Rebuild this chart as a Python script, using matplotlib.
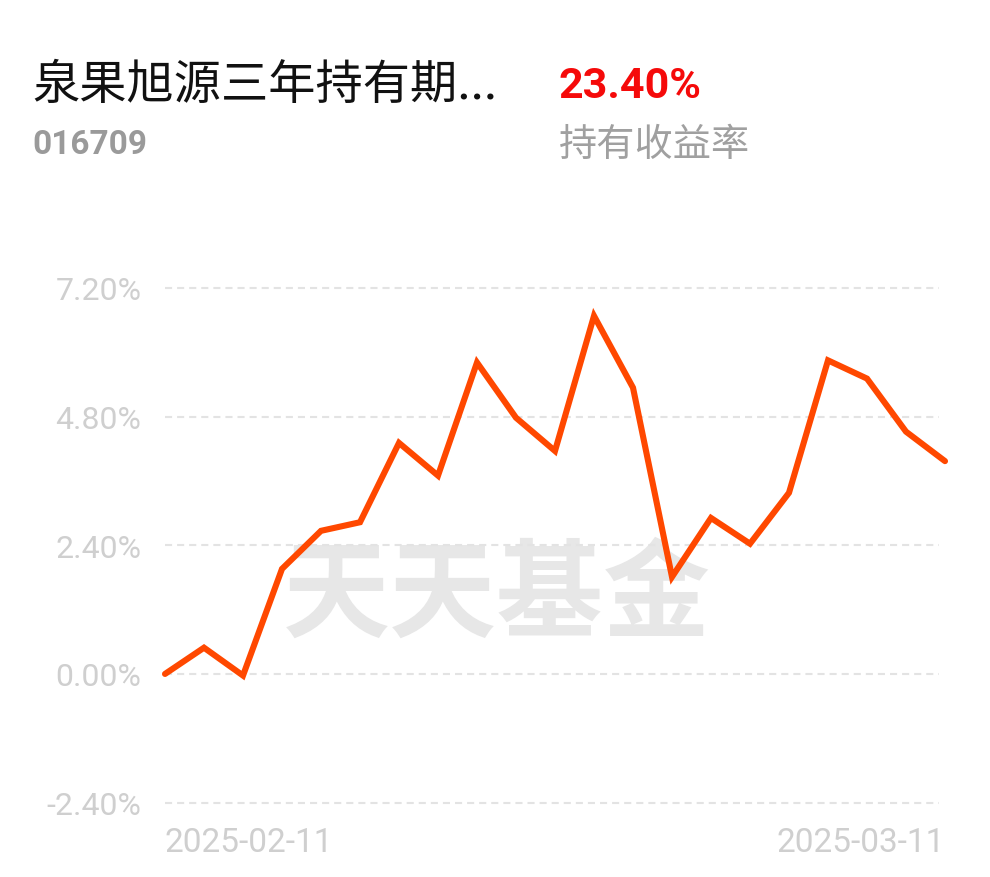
import matplotlib
matplotlib.use('Agg')
import matplotlib.pyplot as plt
import numpy as np

plt.rcParams['font.family'] = ['Roboto', 'Noto Sans CJK SC', 'DejaVu Sans']

# datos
fund_name = '泉果旭源三年持有期...'
fund_code = '016709'
total_return = '23.40%'
return_label = '持有收益率'
date_labels = ['2025-02-11', '2025-03-11']
y_ticks = [-2.4, 0.0, 2.4, 4.8, 7.2]
y_tick_labels = ['-2.40%', '0.00%', '2.40%', '4.80%', '7.20%']
returns = [0.00, 0.49, -0.03, 1.96, 2.67, 2.83, 4.31, 3.70, 5.81, 4.78, 4.16,
           6.68, 5.34, 1.81, 2.91, 2.43, 3.38, 5.85, 5.51, 4.52, 3.97]

W, H = 990, 878
fig = plt.figure(figsize=(W / 100, H / 100), dpi=100)
fig.patch.set_facecolor('white')

# ejes: x de 165 a 945 px, y de 289 a 803.6 px
ax = fig.add_axes([165 / W, 1 - 803.6 / H, 780 / W, (803.6 - 289) / H])
ax.set_facecolor('none')
x = np.arange(len(returns))
ax.set_xlim(0, len(returns) - 1)
ax.set_ylim(-2.4, 7.2)

# marca de agua
ax.text(0.426, 0.40, '天天基金', transform=ax.transAxes, ha='center', va='center',
        fontsize=77, fontweight='bold', color='#e7e7e7',
        family=['Noto Sans CJK SC'], zorder=1)

# lineas de referencia
for t in y_ticks:
    ax.plot([0, 19.85], [t, t], color='#e3e3e3', lw=1.5, ls=(0, (3.4, 2.4)),
            zorder=2, clip_on=False)

ax.plot(x, returns, color='#ff4800', lw=4.4, solid_joinstyle='miter',
        solid_capstyle='round', zorder=3, clip_on=False)

for s in ax.spines.values():
    s.set_visible(False)
ax.tick_params(length=0)
ax.set_yticks(y_ticks)
ax.set_yticklabels(y_tick_labels, fontsize=23, color='#cfcfcf')
ax.tick_params(axis='y', pad=17)
ax.set_xticks([0, len(returns) - 1])
ax.set_xticklabels(date_labels, fontsize=24, color='#cfcfcf')
ax.tick_params(axis='x', pad=17)
lbls = ax.get_xticklabels()
lbls[0].set_ha('left')
lbls[1].set_ha('right')

# encabezado
fig.text(32 / W, 1 - 86 / H, fund_name, fontsize=34, color='#111111',
         ha='left', va='center', family=['Noto Sans CJK SC', 'DejaVu Sans'])
fig.text(32 / W, 1 - 145 / H, fund_code, fontsize=24, color='#9a9a9a',
         fontweight='bold', ha='left', va='center')
fig.text(559 / W, 1 - 86 / H, total_return, fontsize=31, color='#f50a0a',
         fontweight='bold', ha='left', va='center')
fig.text(559 / W, 1 - 146 / H, return_label, fontsize=27.5, color='#a0a0a0',
         ha='left', va='center', family=['Noto Sans CJK SC'])

fig.savefig('out.png', dpi=100, facecolor='white')
